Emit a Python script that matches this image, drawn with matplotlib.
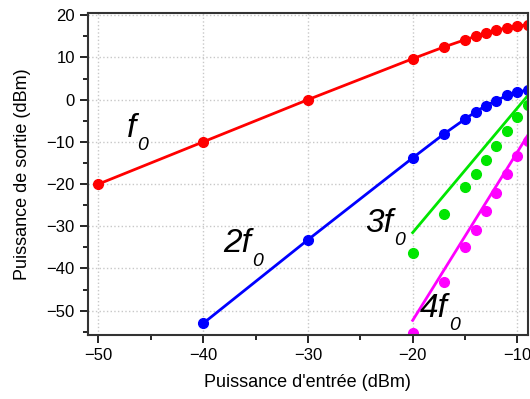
import matplotlib
matplotlib.use('Agg')
import matplotlib.pyplot as plt
from matplotlib.ticker import MultipleLocator

plt.rcParams['font.family'] = ['Liberation Sans', 'DejaVu Sans']

# fundamental f0
x_f0 = [-50, -40, -30, -20, -17, -15, -14, -13, -12, -11, -10, -9]
y_f0 = [-20, -10, 0, 9.7, 12.5, 14.2, 15.0, 15.8, 16.5, 17.0, 17.4, 17.8]

# 2f0
x_2f0 = [-40, -30, -20, -17, -15, -14, -13, -12, -11, -10, -9]
y_2f0 = [-53.0, -33.2, -13.8, -8.1, -4.6, -2.9, -1.4, -0.2, 1.0, 1.8, 2.3]

# 3f0 (points + fitted line)
x_3f0 = [-20, -17, -15, -14, -13, -12, -11, -10, -9]
y_3f0 = [-36.4, -27.2, -20.8, -17.7, -14.3, -11.0, -7.5, -4.0, -1.2]
x_3f0_fit = [-20, -9]
y_3f0_fit = [-31.5, 1.0]

# 4f0 (points + fitted line)
x_4f0 = [-20, -17, -15, -14, -13, -12, -11, -10, -9]
y_4f0 = [-55.2, -43.2, -35.0, -30.9, -26.4, -22.0, -17.6, -13.3, -9.8]
x_4f0_fit = [-20, -9]
y_4f0_fit = [-52.3, -8.4]

# curve labels: text, x, y (baseline, data units)
lab_text = ['f', '2f', '3f', '4f']
lab_x = [-47.3, -38.1, -24.55, -19.3]
lab_y = [-8.9, -36.2, -31.4, -51.5]

fig = plt.figure(figsize=(5.3, 3.99), dpi=100)
ax = fig.add_axes([0.166, 0.16, 0.83, 0.807])

ax.plot(x_f0, y_f0, '-o', color='#ff0000', lw=2, ms=7)
ax.plot(x_2f0, y_2f0, '-o', color='#0000ff', lw=2, ms=7)
ax.plot(x_3f0, y_3f0, 'o', color='#00e600', ms=7)
ax.plot(x_3f0_fit, y_3f0_fit, '-', color='#00e600', lw=2)
ax.plot(x_4f0, y_4f0, 'o', color='#ff00ff', ms=7)
ax.plot(x_4f0_fit, y_4f0_fit, '-', color='#ff00ff', lw=2)

lab_font = ['Liberation Sans Narrow', 'Liberation Sans']
for s, x, y in zip(lab_text, lab_x, lab_y):
    t = ax.text(x, y, s, fontsize=24, style='italic', family=lab_font,
                ha='left', va='baseline')
    ax.annotate('0', xy=(1, 0), xycoords=t, xytext=(1, -4.5), textcoords='offset points',
                fontsize=14, style='italic', family=lab_font, ha='left', va='baseline')

ax.set_xlim(-51.0, -9.0)
ax.set_ylim(-55.8, 20.5)
ax.xaxis.set_major_locator(MultipleLocator(10))
ax.xaxis.set_minor_locator(MultipleLocator(5))
ax.yaxis.set_major_locator(MultipleLocator(10))
ax.yaxis.set_minor_locator(MultipleLocator(5))
ax.tick_params(which='major', direction='out', length=6, width=1.2, labelsize=12, pad=3.5)
ax.tick_params(which='minor', direction='out', length=3.5, width=1.2)
ax.grid(True, which='major', linestyle=':', color='#c8c8c8', linewidth=1)
ax.set_axisbelow(True)
for sp in ax.spines.values():
    sp.set_linewidth(1.5)
    sp.set_color('#333333')

ax.set_xlabel("Puissance d'entrée (dBm)", fontsize=13, labelpad=8)
ax.set_ylabel('Puissance de sortie (dBm)', fontsize=13, labelpad=11)

fig.savefig('out.png', dpi=100)
